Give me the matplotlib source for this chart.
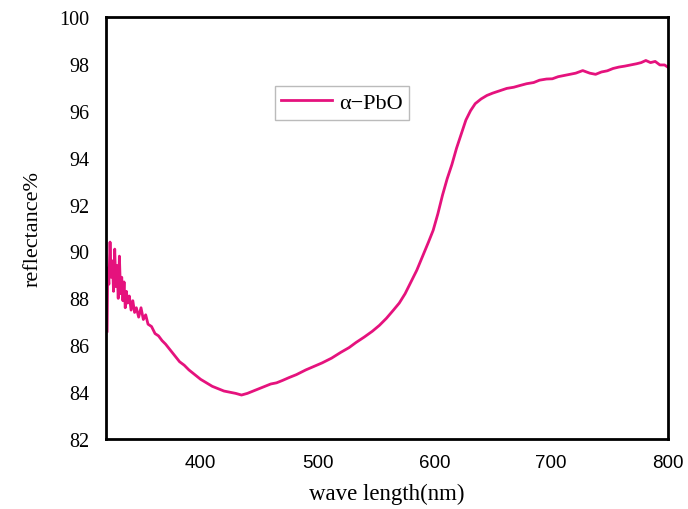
import numpy as np
import matplotlib.pyplot as plt

# reflectance spectrum of alpha-PbO
wavelength = [320.0, 320.5, 321.5, 322.5, 323.5, 324.5, 325.5, 326.5, 327.5, 328.5,
              329.5, 330.5, 331.5, 332.5, 333.5, 334.5, 335.5, 336.5, 337.5, 339,
              340.5, 342, 343.5, 345, 347, 349, 351, 353, 355, 358,
              361, 364, 367, 370, 374, 378, 382, 386, 390, 395,
              400, 405, 410, 415, 420, 425, 430, 435, 440, 445,
              450, 455, 460, 465, 470, 476, 482, 490, 497, 504,
              512, 520, 527, 533, 540, 547, 553, 559, 565, 570,
              575, 580, 585, 590, 595, 599, 603, 607, 611, 615,
              619, 623, 627, 631, 635, 640, 645, 650, 656, 662,
              668, 673, 679, 685, 690, 696, 701, 706, 711, 716,
              721, 727, 733, 738, 743, 748, 753, 758, 763, 768,
              773, 777, 781, 785, 789, 793, 797, 800]
reflectance = [86.6, 89.3, 88.6, 90.4, 88.9, 89.6, 88.3, 90.1, 88.5, 89.4,
               88.0, 89.8, 88.2, 88.9, 87.9, 88.7, 87.6, 88.3, 87.8, 88.1,
               87.5, 87.9, 87.4, 87.6, 87.2, 87.6, 87.1, 87.3, 86.9, 86.8,
               86.5, 86.4, 86.2, 86.05, 85.8, 85.55, 85.3, 85.15, 84.95, 84.75,
               84.55, 84.4, 84.25, 84.15, 84.05, 84.0, 83.95, 83.88, 83.95, 84.05,
               84.15, 84.25, 84.35, 84.4, 84.5, 84.63, 84.75, 84.95, 85.1, 85.25,
               85.45, 85.7, 85.9, 86.12, 86.35, 86.6, 86.85, 87.15, 87.5, 87.8,
               88.2, 88.7, 89.2, 89.8, 90.4, 90.9, 91.6, 92.4, 93.1, 93.7,
               94.4, 95.0, 95.6, 96.0, 96.3, 96.5, 96.65, 96.75, 96.85, 96.95,
               97.0, 97.07, 97.15, 97.2, 97.3, 97.35, 97.36, 97.45, 97.5, 97.55,
               97.6, 97.71, 97.6, 97.55, 97.65, 97.7, 97.8, 97.86, 97.9, 97.95,
               98.0, 98.05, 98.14, 98.05, 98.1, 97.95, 97.95, 97.85]

xticks = [400, 500, 600, 700, 800]
yticks = [82, 84, 86, 88, 90, 92, 94, 96, 98, 100]

fig = plt.figure(figsize=(6.88, 5.10), dpi=100)
ax = fig.add_axes([0.154, 0.137, 0.817, 0.828])

ax.plot(wavelength, reflectance, color='#e5127d', lw=2, label='\u03b1\u2212PbO')

ax.set_xlim(319, 800)
ax.set_ylim(82, 100)
ax.set_xticks(xticks)
ax.set_yticks(yticks)
ax.tick_params(axis='x', length=0, pad=11)
ax.tick_params(axis='y', length=0, pad=12)
for t in ax.get_xticklabels():
    t.set_fontfamily('Liberation Sans')
    t.set_fontsize(13.5)
for t in ax.get_yticklabels():
    t.set_fontfamily('Liberation Serif')
    t.set_fontsize(14.5)

for s in ax.spines.values():
    s.set_linewidth(2)
    s.set_color('black')

ax.set_xlabel('wave length(nm)', fontfamily='Liberation Serif', fontsize=16.5, labelpad=8)
ax.set_ylabel('reflectance%', fontfamily='Liberation Serif', fontsize=16, labelpad=12)

leg = ax.legend(loc='upper left', bbox_to_anchor=(0.3, 0.837), frameon=True, fancybox=False,
                prop={'family': 'Liberation Serif', 'size': 16}, handlelength=2.3,
                borderpad=0.3, handletextpad=0.3, borderaxespad=0)
leg.get_frame().set_edgecolor('#aaaaaa')
leg.get_frame().set_linewidth(1)

plt.savefig('out.png', dpi=100)
